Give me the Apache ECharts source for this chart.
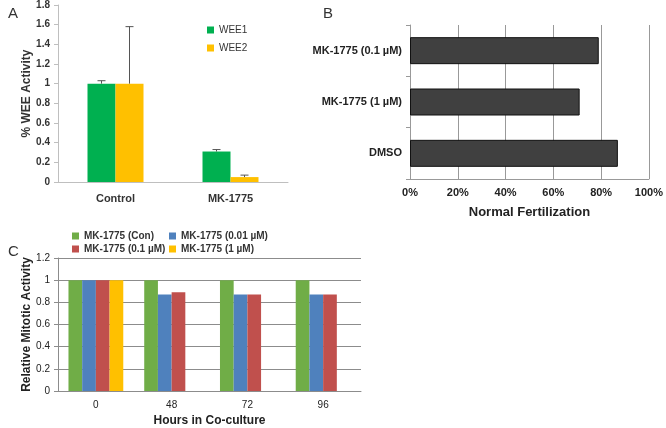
<!DOCTYPE html>
<html><head><meta charset="utf-8">
<script src="https://cdn.jsdelivr.net/npm/echarts@6/dist/echarts.min.js"></script>
<style>html,body{margin:0;padding:0;background:#fff}#c{width:666px;height:428px}</style>
</head><body><div id="c"></div>
<script>
// Panel A
const aCategories = ['Control', 'MK-1775'];
const aWee1 = [1.0, 0.31];
const aWee2 = [1.0, 0.05];
const aWee1Err = [0.03, 0.02];
const aWee2Err = [0.58, 0.02];
// Panel B
const bCategories = ['DMSO', 'MK-1775 (1 µM)', 'MK-1775 (0.1 µM)'];
const bValues = [0.87, 0.71, 0.79];
// Panel C
const cCategories = ['0', '48', '72', '96'];
const cCon = [1, 1, 1, 1];
const c001 = [1, 0.87, 0.87, 0.87];
const c01 = [1, 0.89, 0.87, 0.87];
const c1 = [1, null, null, null];
const cNames = ['MK-1775 (Con)', 'MK-1775 (0.01 µM)', 'MK-1775 (0.1 µM)', 'MK-1775 (1 µM)'];

const FONT = 'Liberation Sans';
const chart = echarts.init(document.getElementById('c'));

function errSeries(vals, errs, offset) {
  return {
    type: 'custom', xAxisIndex: 0, yAxisIndex: 0, z: 5,
    data: vals.map((v, i) => [i, v, v + errs[i]]),
    renderItem: function (params, api) {
      const base = api.coord([api.value(0), api.value(1)]);
      const top = api.coord([api.value(0), api.value(2)]);
      const x = base[0] + offset;
      return {
        type: 'group', children: [
          { type: 'line', shape: { x1: x, y1: base[1], x2: x, y2: top[1] }, style: { stroke: '#555', lineWidth: 1 } },
          { type: 'line', shape: { x1: x - 4, y1: top[1], x2: x + 4, y2: top[1] }, style: { stroke: '#555', lineWidth: 1 } }
        ]
      };
    }
  };
}

const legendBase = { itemWidth: 7, itemHeight: 7, icon: 'rect', selectedMode: false, padding: 0 };

chart.setOption({
  animation: false,
  textStyle: { fontFamily: FONT },
  title: [
    { text: 'A', left: 3, top: 1, textStyle: { fontSize: 15, fontWeight: 'normal', color: '#333', fontFamily: FONT } },
    { text: 'B', left: 318, top: 1, textStyle: { fontSize: 15, fontWeight: 'normal', color: '#333', fontFamily: FONT } },
    { text: 'C', left: 3, top: 239, textStyle: { fontSize: 15, fontWeight: 'normal', color: '#333', fontFamily: FONT } }
  ],
  legend: [
    Object.assign({}, legendBase, { data: ['WEE1'], left: 207, top: 25, textStyle: { fontSize: 10, color: '#333', fontFamily: FONT } }),
    Object.assign({}, legendBase, { data: ['WEE2'], left: 207, top: 43, textStyle: { fontSize: 10, color: '#333', fontFamily: FONT } }),
    Object.assign({}, legendBase, { data: [cNames[0]], left: 72, top: 231, textStyle: { fontSize: 10, fontWeight: 'bold', color: '#333', fontFamily: FONT } }),
    Object.assign({}, legendBase, { data: [cNames[1]], left: 169, top: 231, textStyle: { fontSize: 10, fontWeight: 'bold', color: '#333', fontFamily: FONT } }),
    Object.assign({}, legendBase, { data: [cNames[2]], left: 72, top: 244, textStyle: { fontSize: 10, fontWeight: 'bold', color: '#333', fontFamily: FONT } }),
    Object.assign({}, legendBase, { data: [cNames[3]], left: 169, top: 244, textStyle: { fontSize: 10, fontWeight: 'bold', color: '#333', fontFamily: FONT } })
  ],
  grid: [
    { left: 58, top: 3, width: 230, height: 179 },
    { left: 410, top: 25, width: 244, height: 154 },
    { left: 58, top: 258, width: 303, height: 135 }
  ],
  xAxis: [
    { gridIndex: 0, type: 'category', data: aCategories,
      axisLine: { lineStyle: { color: '#bfbfbf' } }, axisTick: { length: 5, lineStyle: { color: '#bfbfbf' } },
      axisLabel: { fontSize: 11, fontWeight: 'bold', color: '#333', margin: 11, fontFamily: FONT } },
    { gridIndex: 1, type: 'value', min: 0, max: 1, interval: 0.2,
      axisLine: { show: true, lineStyle: { color: '#999' } }, axisTick: { show: false },
      splitLine: { show: true, lineStyle: { color: '#999', width: 1 } },
      axisLabel: { fontSize: 11, fontWeight: 'bold', color: '#222', margin: 8, fontFamily: FONT,
        formatter: v => Math.round(v * 100) + '%' },
      name: 'Normal Fertilization', nameLocation: 'middle', nameGap: 27,
      nameTextStyle: { fontSize: 13, fontWeight: 'bold', color: '#222', fontFamily: FONT } },
    { gridIndex: 2, type: 'category', data: cCategories,
      axisLine: { lineStyle: { color: '#8c8c8c' } }, axisTick: { length: 5, lineStyle: { color: '#8c8c8c' } },
      axisLabel: { fontSize: 10, color: '#222', margin: 9, fontFamily: FONT },
      name: 'Hours in Co-culture', nameLocation: 'middle', nameGap: 24,
      nameTextStyle: { fontSize: 12, fontWeight: 'bold', color: '#222', fontFamily: FONT } }
  ],
  yAxis: [
    { gridIndex: 0, type: 'value', min: 0, max: 1.8, interval: 0.2,
      axisLine: { show: true, lineStyle: { color: '#bfbfbf' } }, axisTick: { show: true, length: 4, lineStyle: { color: '#bfbfbf' } },
      splitLine: { show: false },
      axisLabel: { fontSize: 10, fontWeight: 'bold', color: '#333', margin: 8, fontFamily: FONT,
        formatter: v => String(Math.round(v * 10) / 10) },
      name: '% WEE Activity', nameLocation: 'middle', nameGap: 25, nameRotate: 90,
      nameTextStyle: { fontSize: 12, fontWeight: 'bold', color: '#333', fontFamily: FONT } },
    { gridIndex: 1, type: 'category', data: bCategories,
      axisLine: { show: true, lineStyle: { color: '#999' } }, axisTick: { show: true, length: 4, lineStyle: { color: '#999' } },
      axisLabel: { fontSize: 11, fontWeight: 'bold', color: '#222', margin: 8, fontFamily: FONT } },
    { gridIndex: 2, type: 'value', min: 0, max: 1.2, interval: 0.2,
      axisLine: { show: true, lineStyle: { color: '#8c8c8c' } }, axisTick: { show: true, length: 4, lineStyle: { color: '#8c8c8c' } },
      splitLine: { show: true, lineStyle: { color: '#8c8c8c', width: 1 } },
      axisLabel: { fontSize: 10, color: '#222', margin: 8, fontFamily: FONT,
        formatter: v => String(Math.round(v * 10) / 10) },
      name: 'Relative Mitotic Activity', nameLocation: 'middle', nameGap: 25, nameRotate: 90,
      nameTextStyle: { fontSize: 12, fontWeight: 'bold', color: '#222', fontFamily: FONT } }
  ],
  series: [
    { name: 'WEE1', type: 'bar', xAxisIndex: 0, yAxisIndex: 0, data: aWee1, barWidth: 28, barGap: 0, itemStyle: { color: '#00B050' } },
    { name: 'WEE2', type: 'bar', xAxisIndex: 0, yAxisIndex: 0, data: aWee2, barWidth: 28, barGap: 0, itemStyle: { color: '#FFC000' } },
    errSeries(aWee1, aWee1Err, -14),
    errSeries(aWee2, aWee2Err, 14),
    { type: 'bar', xAxisIndex: 1, yAxisIndex: 1, data: bValues, barWidth: 27,
      itemStyle: { color: '#404040', borderColor: '#111', borderWidth: 1 } },
    { name: cNames[0], type: 'bar', xAxisIndex: 2, yAxisIndex: 2, data: cCon, barWidth: 13.7, barGap: 0, itemStyle: { color: '#70AD47' } },
    { name: cNames[1], type: 'bar', xAxisIndex: 2, yAxisIndex: 2, data: c001, barWidth: 13.7, barGap: 0, itemStyle: { color: '#4F81BD' } },
    { name: cNames[2], type: 'bar', xAxisIndex: 2, yAxisIndex: 2, data: c01, barWidth: 13.7, barGap: 0, itemStyle: { color: '#C0504D' } },
    { name: cNames[3], type: 'bar', xAxisIndex: 2, yAxisIndex: 2, data: c1, barWidth: 13.7, barGap: 0, itemStyle: { color: '#FFC000' } }
  ]
});
</script></body></html>
